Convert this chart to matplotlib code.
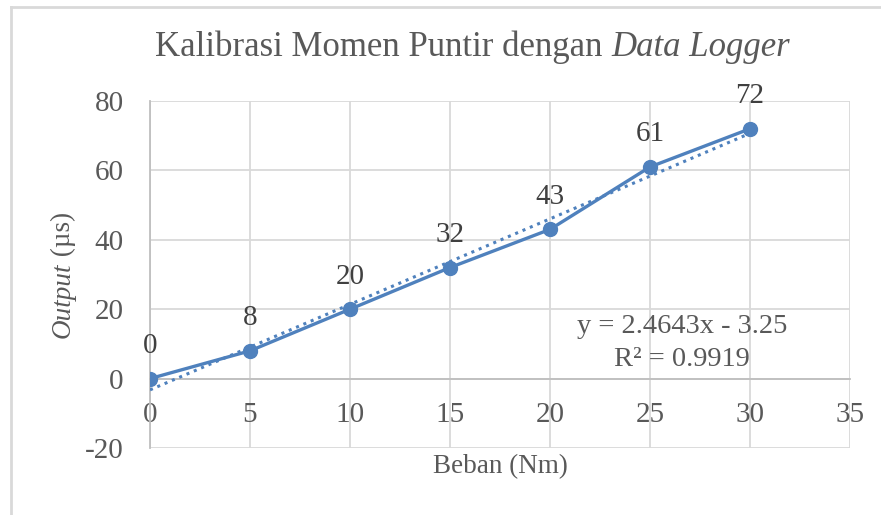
import numpy as np
import matplotlib.pyplot as plt
from matplotlib.lines import Line2D

# data
beban = [0, 5, 10, 15, 20, 25, 30]
output = [0, 8, 20, 32, 43, 61, 72]
x_ticks = [0, 5, 10, 15, 20, 25, 30, 35]
y_ticks = [-20, 0, 20, 40, 60, 80]

plt.rcParams['font.family'] = ['Liberation Serif', 'DejaVu Serif']
plt.rcParams['axes.unicode_minus'] = False
blue = '#4F81BD'
txt = '#595959'
grid = '#D9D9D9'
W, H = 881, 515

fig = plt.figure(figsize=(8.81, 5.15), dpi=100)
ax = fig.add_axes([150/W, 67/H, 700/W, 347/H])

# trendline (linear fit)
k, b = np.polyfit(beban, output, 1)
yfit = np.polyval([k, b], beban)
r2 = 1 - np.sum((np.array(output) - yfit)**2) / np.sum((np.array(output) - np.mean(output))**2)
xt = np.array([0, 30])
ax.plot(xt, k*xt + b, color=blue, lw=2.2, ls=(0, (1, 1.6)), zorder=3)

ax.plot(beban, output, color=blue, lw=2.4, marker='o', ms=10, zorder=4)
for xi, yi in zip(beban, output):
    ax.annotate(str(yi), (xi, yi), xytext=(0, 14), textcoords='offset points',
                ha='center', va='bottom', fontsize=21, color='#404040')

ax.set_xlim(0, 35)
ax.set_ylim(-20, 80)
ax.set_xticks(x_ticks)
ax.set_yticks(y_ticks)
ax.grid(True, color=grid, lw=1.3, zorder=0)
ax.set_axisbelow(True)
for s in ['top', 'right']:
    ax.spines[s].set_visible(False)
ax.spines['bottom'].set_position(('data', 0))
ax.spines['bottom'].set_color('#BFBFBF')
ax.spines['left'].set_color('#BFBFBF')
ax.spines['bottom'].set_linewidth(1.3)
ax.spines['left'].set_linewidth(1.3)
ax.tick_params(length=0, labelsize=21, labelcolor=txt)
ax.tick_params(axis='x', pad=17)
ax.tick_params(axis='y', pad=19)

eq = 'y = %.4fx - %.2f\nR² = %.4f' % (k, -b, r2)
ax.text(26.6, 10.3, eq, ha='center', va='center', fontsize=20.5, color=txt,
        linespacing=1.4)

r = fig.canvas.get_renderer()

# title: normal + italic part, centred together
ty = 1 - 47/H
t1 = fig.text(0, ty, 'Kalibrasi Momen Puntir dengan ', ha='left', va='center',
              fontsize=25, color=txt)
t2 = fig.text(0, ty, 'Data Logger', ha='left', va='center',
              fontsize=25, color=txt, fontstyle='italic')
w1 = t1.get_window_extent(r).width
w2 = t2.get_window_extent(r).width
x0 = 472.5 - (w1 + w2) / 2
t1.set_x(x0 / W)
t2.set_x((x0 + w1) / W)

fig.text(500/W, 1 - 467/H, 'Beban (Nm)', ha='center', va='center',
         fontsize=19.5, color=txt)

# y label: italic "Output" + " (µs)", centred together
lx = 63 / W
l1 = fig.text(lx, 0, 'Output', ha='left', va='center', rotation=90,
              rotation_mode='anchor', fontsize=19.5, color=txt, fontstyle='italic')
l2 = fig.text(lx, 0, ' (µs)', ha='left', va='center', rotation=90,
              rotation_mode='anchor', fontsize=19.5, color=txt)
h1 = l1.get_window_extent(r).height
h2 = l2.get_window_extent(r).height
y0 = (H - 275) - (h1 + h2) / 2
l1.set_y(y0 / H)
l2.set_y((y0 + h1) / H)

# chart border
fig.add_artist(Line2D([11/W, 1], [1 - 7/H, 1 - 7/H], color='#D9D9D9', lw=2))
fig.add_artist(Line2D([11/W, 11/W], [0, 1 - 7/H], color='#D9D9D9', lw=2))

fig.savefig('out.png', dpi=100)
